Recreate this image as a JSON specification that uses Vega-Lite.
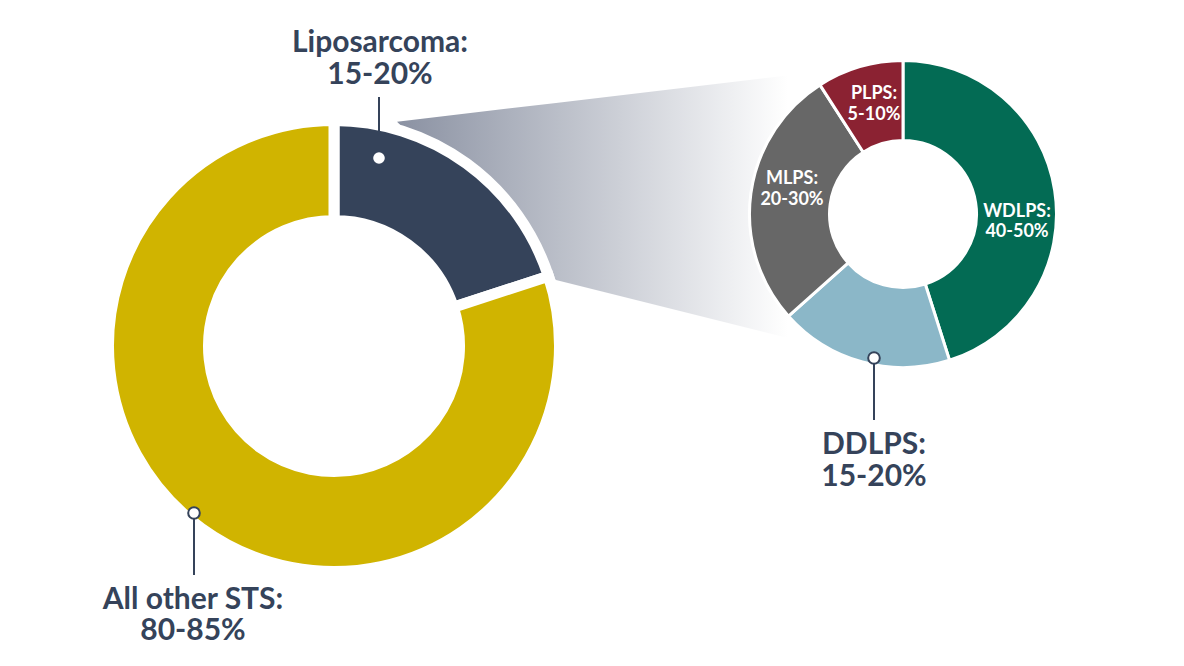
{
  "$schema": "https://vega.github.io/schema/vega-lite/v6.json",
  "width": 1184,
  "height": 666,
  "autosize": {"type": "fit", "contains": "padding"},
  "padding": 0,
  "background": "white",
  "data": {"values": [{}]},
  "layer": [
    {
      "data": {"values": [
        {"px": 397, "top": 121.7, "bottom": 121.7},
        {"px": 556, "top": 102.9, "bottom": 280},
        {"px": 800, "top": 74, "bottom": 341}
      ]},
      "mark": {
        "type": "area",
        "color": {
          "gradient": "linear",
          "x1": 0, "y1": 0, "x2": 1, "y2": 0,
          "stops": [
            {"offset": 0, "color": "#8a91a2"},
            {"offset": 0.97, "color": "#ffffff"}
          ]
        }
      },
      "encoding": {
        "x": {"field": "px", "type": "quantitative", "scale": {"domain": [0, 1184], "nice": false, "zero": false}},
        "y": {"field": "top", "type": "quantitative", "stack": null, "scale": {"domain": [0, 666], "nice": false, "zero": false, "reverse": true}},
        "y2": {"field": "bottom"}
      }
    },
    {
      "data": {"values": [
        {"group": "Liposarcoma", "share": 20, "k": 1},
        {"group": "All other STS", "share": 80, "k": 2}
      ]},
      "mark": {"type": "arc", "radius": 225.5, "radius2": 125.5, "stroke": "white", "strokeWidth": 11},
      "encoding": {
        "theta": {"field": "share", "type": "quantitative", "stack": true},
        "order": {"field": "k", "type": "quantitative"},
        "color": {
          "field": "group", "type": "nominal", "legend": null,
          "scale": {
            "domain": ["Liposarcoma", "All other STS", "WDLPS", "DDLPS", "MLPS", "PLPS"],
            "range": ["#35435a", "#d0b400", "#036b54", "#8bb7c8", "#676767", "#8b2232"]
          }
        },
        "x": {"datum": 334, "type": "quantitative", "scale": {"domain": [0, 1184], "nice": false, "zero": false}},
        "y": {"datum": 346, "type": "quantitative", "scale": {"domain": [0, 666], "nice": false, "zero": false, "reverse": true}}
      }
    },
    {
      "data": {"values": [
        {"group": "WDLPS", "share": 45.1, "k": 1},
        {"group": "DDLPS", "share": 18.3, "k": 2},
        {"group": "MLPS", "share": 27.5, "k": 3},
        {"group": "PLPS", "share": 9.1, "k": 4}
      ]},
      "mark": {"type": "arc", "radius": 153.5, "radius2": 73.5, "stroke": "white", "strokeWidth": 3},
      "encoding": {
        "theta": {"field": "share", "type": "quantitative", "stack": true},
        "order": {"field": "k", "type": "quantitative"},
        "color": {
          "field": "group", "type": "nominal", "legend": null,
          "scale": {
            "domain": ["Liposarcoma", "All other STS", "WDLPS", "DDLPS", "MLPS", "PLPS"],
            "range": ["#35435a", "#d0b400", "#036b54", "#8bb7c8", "#676767", "#8b2232"]
          }
        },
        "x": {"datum": 903, "type": "quantitative", "scale": {"domain": [0, 1184], "nice": false, "zero": false}},
        "y": {"datum": 214, "type": "quantitative", "scale": {"domain": [0, 666], "nice": false, "zero": false, "reverse": true}}
      }
    },
    {
      "data": {"values": [
        {"lx": 379, "from": 97, "to": 131},
        {"lx": 194, "from": 513, "to": 575},
        {"lx": 874, "from": 358, "to": 420}
      ]},
      "mark": {"type": "rule", "color": "#35435a", "strokeWidth": 2},
      "encoding": {
        "x": {"field": "lx", "type": "quantitative", "scale": {"domain": [0, 1184], "nice": false, "zero": false}},
        "y": {"field": "from", "type": "quantitative", "scale": {"domain": [0, 666], "nice": false, "zero": false, "reverse": true}},
        "y2": {"field": "to"}
      }
    },
    {
      "mark": {"type": "point", "shape": "circle", "filled": true, "fill": "white", "opacity": 1, "size": 135},
      "encoding": {
        "x": {"datum": 379, "type": "quantitative", "scale": {"domain": [0, 1184], "nice": false, "zero": false}},
        "y": {"datum": 158, "type": "quantitative", "scale": {"domain": [0, 666], "nice": false, "zero": false, "reverse": true}}
      }
    },
    {
      "data": {"values": [
        {"lx": 194, "ly": 513},
        {"lx": 874, "ly": 358}
      ]},
      "mark": {"type": "point", "shape": "circle", "filled": true, "fill": "white", "stroke": "#35435a", "strokeWidth": 2, "opacity": 1, "size": 135},
      "encoding": {
        "x": {"field": "lx", "type": "quantitative", "scale": {"domain": [0, 1184], "nice": false, "zero": false}},
        "y": {"field": "ly", "type": "quantitative", "scale": {"domain": [0, 666], "nice": false, "zero": false, "reverse": true}}
      }
    },
    {
      "mark": {"type": "text", "text": ["Liposarcoma:", "15-20%"], "font": "Lato", "fontWeight": "bold", "fontSize": 30, "lineHeight": 32, "align": "center", "baseline": "top", "color": "#35435a"},
      "encoding": {
        "x": {"datum": 380, "type": "quantitative", "scale": {"domain": [0, 1184], "nice": false, "zero": false}},
        "y": {"datum": 28, "type": "quantitative", "scale": {"domain": [0, 666], "nice": false, "zero": false, "reverse": true}}
      }
    },
    {
      "mark": {"type": "text", "text": ["All other STS:", "80-85%"], "font": "Lato", "fontWeight": "bold", "fontSize": 30, "lineHeight": 31, "align": "center", "baseline": "top", "color": "#35435a"},
      "encoding": {
        "x": {"datum": 193, "type": "quantitative", "scale": {"domain": [0, 1184], "nice": false, "zero": false}},
        "y": {"datum": 585, "type": "quantitative", "scale": {"domain": [0, 666], "nice": false, "zero": false, "reverse": true}}
      }
    },
    {
      "mark": {"type": "text", "text": ["DDLPS:", "15-20%"], "font": "Lato", "fontWeight": "bold", "fontSize": 30, "lineHeight": 32, "align": "center", "baseline": "top", "color": "#35435a"},
      "encoding": {
        "x": {"datum": 874, "type": "quantitative", "scale": {"domain": [0, 1184], "nice": false, "zero": false}},
        "y": {"datum": 430, "type": "quantitative", "scale": {"domain": [0, 666], "nice": false, "zero": false, "reverse": true}}
      }
    },
    {
      "mark": {"type": "text", "text": ["WDLPS:", "40-50%"], "font": "Lato", "fontWeight": "bold", "fontSize": 18, "lineHeight": 20, "align": "center", "baseline": "top", "color": "white"},
      "encoding": {
        "x": {"datum": 1017, "type": "quantitative", "scale": {"domain": [0, 1184], "nice": false, "zero": false}},
        "y": {"datum": 202.5, "type": "quantitative", "scale": {"domain": [0, 666], "nice": false, "zero": false, "reverse": true}}
      }
    },
    {
      "mark": {"type": "text", "text": ["MLPS:", "20-30%"], "font": "Lato", "fontWeight": "bold", "fontSize": 18, "lineHeight": 21, "align": "center", "baseline": "top", "color": "white"},
      "encoding": {
        "x": {"datum": 792, "type": "quantitative", "scale": {"domain": [0, 1184], "nice": false, "zero": false}},
        "y": {"datum": 170, "type": "quantitative", "scale": {"domain": [0, 666], "nice": false, "zero": false, "reverse": true}}
      }
    },
    {
      "mark": {"type": "text", "text": ["PLPS:", "5-10%"], "font": "Lato", "fontWeight": "bold", "fontSize": 18, "lineHeight": 21, "align": "center", "baseline": "top", "color": "white"},
      "encoding": {
        "x": {"datum": 874, "type": "quantitative", "scale": {"domain": [0, 1184], "nice": false, "zero": false}},
        "y": {"datum": 85, "type": "quantitative", "scale": {"domain": [0, 666], "nice": false, "zero": false, "reverse": true}}
      }
    }
  ],
  "config": {
    "view": {"stroke": null},
    "axis": {"disable": true}
  }
}
